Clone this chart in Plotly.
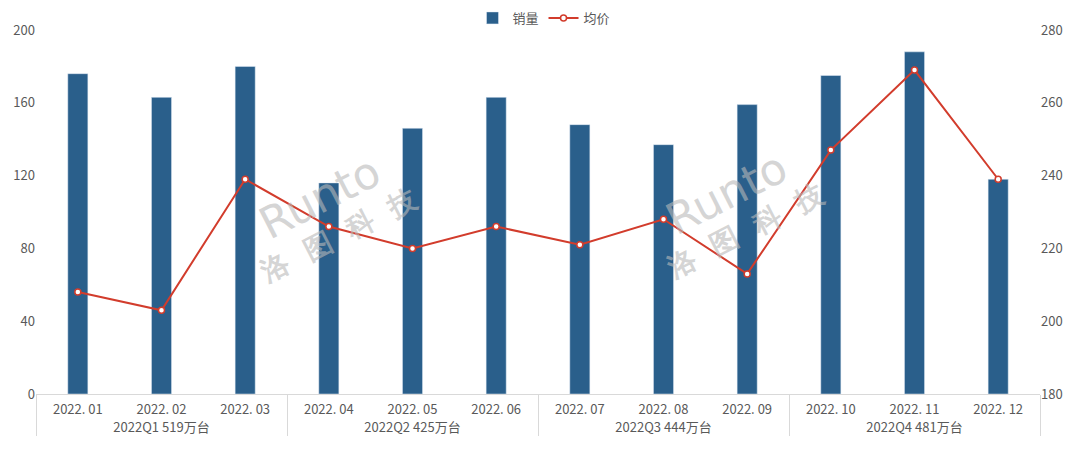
import plotly.graph_objects as go

months = ["2022. 01", "2022. 02", "2022. 03", "2022. 04", "2022. 05", "2022. 06",
          "2022. 07", "2022. 08", "2022. 09", "2022. 10", "2022. 11", "2022. 12"]
quarters = ["2022Q1 519万台"] * 3 + ["2022Q2 425万台"] * 3 + ["2022Q3 444万台"] * 3 + ["2022Q4 481万台"] * 3
sales = [176, 163, 180, 116, 146, 163, 148, 137, 159, 175, 188, 118]
avg_price = [208, 203, 239, 226, 220, 226, 221, 228, 213, 247, 269, 239]

FONT = "Noto Sans CJK SC"
GREY = "#595959"

fig = go.Figure()
fig.add_trace(go.Bar(
    x=[quarters, months], y=sales, name="销量",
    marker=dict(color="#2a5f8b"), yaxis="y",
))
fig.add_trace(go.Scatter(
    x=[quarters, months], y=avg_price, name="均价", yaxis="y2",
    mode="lines+markers",
    line=dict(color="#d23c2c", width=2),
    marker=dict(symbol="circle", size=6, color="white", line=dict(color="#d23c2c", width=1.5)),
))

for xx, yy in [(0.29, 0.50), (0.695, 0.51)]:
    fig.add_annotation(xref="paper", yref="paper", x=xx, y=yy, xanchor="center", yanchor="middle",
                       text="<span style='font-size:44px'>Runto</span><br><b>洛  图  科  技</b>",
                       showarrow=False, textangle=-27,
                       font=dict(family="DejaVu Sans", size=28, color="rgba(185,185,185,0.6)"))

fig.update_layout(
    width=1072, height=453,
    margin=dict(l=28, r=40, t=22, b=67, autoexpand=False),
    paper_bgcolor="white", plot_bgcolor="white",
    bargap=0.76,
    font=dict(family=FONT, size=13, color=GREY),
    legend=dict(orientation="h", x=0.5, xanchor="center", xref="container",
                y=0.978, yanchor="middle", yref="container",
                font=dict(size=13, color=GREY), traceorder="normal"),
    xaxis=dict(type="multicategory", range=[-0.5, 11.5], showline=True, linecolor="#d9d9d9", linewidth=1,
               showdividers=True, dividercolor="#d9d9d9", dividerwidth=1, ticklabelstandoff=3,
               tickfont=dict(size=13, color=GREY), ticks="", automargin=False),
    yaxis=dict(range=[0, 200], dtick=40, showgrid=False, zeroline=False, automargin=False,
               tickfont=dict(size=13, color=GREY)),
    yaxis2=dict(range=[180, 280], dtick=20, overlaying="y", side="right", showgrid=False,
                zeroline=False, automargin=False, tickfont=dict(size=13, color=GREY)),
)

fig.write_html("out.html")
